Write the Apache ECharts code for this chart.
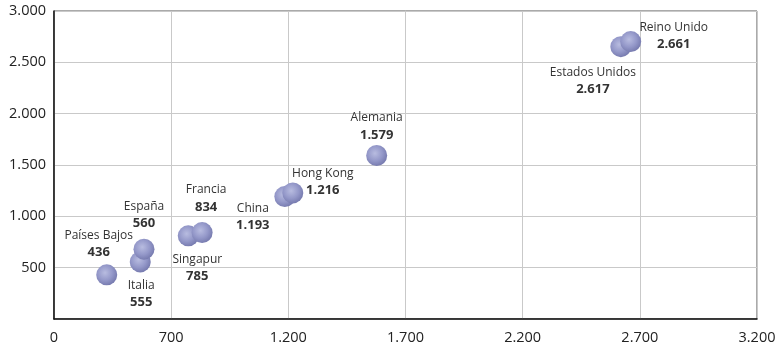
<!DOCTYPE html>
<html>
<head>
<meta charset="utf-8">
<script src="https://cdn.jsdelivr.net/npm/echarts@6/dist/echarts.min.js"></script>
<style>
html,body{margin:0;padding:0;background:#fff;}
#chart{width:782px;height:350px;}
</style>
</head>
<body>
<div id="chart"></div>
<script>
const countries = ['Países Bajos','Italia','España','Singapur','Francia','China','Hong Kong','Alemania','Estados Unidos','Reino Unido'];
const labelValues = [436, 555, 560, 785, 834, 1193, 1216, 1579, 2617, 2661];
const xValues = [425, 568, 584, 773, 832, 1185, 1219, 1577, 2619, 2661];
const yValues = [430, 556, 680, 810, 842, 1192, 1228, 1593, 2653, 2702];
const labelOffsets = [[-8,-31],[1,32],[0,-34],[9,32],[4,-34],[-32,20],[30,-11],[0,-29],[-28,34],[43,-6]];
const xTicks = [200, 700, 1200, 1700, 2200, 2700, 3200];
const xTickText = ['0','700','1.200','1.700','2.200','2.700','3.200'];

function fmt(v){ return String(v).replace(/\B(?=(\d{3})+(?!\d))/g, '.'); }

const chart = echarts.init(document.getElementById('chart'));
const data = countries.map((c,i)=>({
  value:[xValues[i], yValues[i]],
  name:c,
  label:{offset:labelOffsets[i]}
}));
chart.setOption({
  animation:false,
  textStyle:{fontFamily:'"Open Sans", sans-serif'},
  grid:{left:54,right:25,top:11,bottom:31,show:true,borderColor:'#555',borderWidth:1},
  xAxis:{
    type:'value',min:200,max:3200,interval:500,
    axisLine:{show:true,lineStyle:{color:'#111',width:1.5}},
    axisTick:{show:false},
    splitLine:{show:true,lineStyle:{color:'#c9c9c9',width:1}},
    axisLabel:{color:'#222',fontSize:14.5,margin:11,
      formatter:v=>{const k=xTicks.indexOf(v);return k>=0?xTickText[k]:fmt(v);}}
  },
  yAxis:{
    type:'value',min:0,max:3000,interval:500,
    axisLine:{show:true,lineStyle:{color:'#111',width:1.5}},
    axisTick:{show:false},
    splitLine:{show:true,lineStyle:{color:'#c9c9c9',width:1}},
    axisLabel:{color:'#222',fontSize:14.5,margin:8,showMinLabel:false,formatter:v=>fmt(v)}
  },
  series:[{
    type:'scatter',
    symbolSize:21,
    data:data,
    itemStyle:{
      color:new echarts.graphic.RadialGradient(0.42,0.4,0.6,[
        {offset:0,color:'#b8bce0'},
        {offset:0.6,color:'#9498c9'},
        {offset:1,color:'#787cb0'}
      ]),
      opacity:1
    },
    label:{
      show:true,position:'inside',align:'center',verticalAlign:'middle',
      formatter:p=>'{n|'+p.name+'}\n{v|'+fmt(labelValues[p.dataIndex])+'}',
      rich:{
        n:{fontSize:12,color:'#333',lineHeight:17,fontFamily:'"Open Sans", sans-serif'},
        v:{fontSize:13,fontWeight:'bold',color:'#333',lineHeight:17,fontFamily:'"Open Sans", sans-serif'}
      }
    }
  }]
});
</script>
</body>
</html>
